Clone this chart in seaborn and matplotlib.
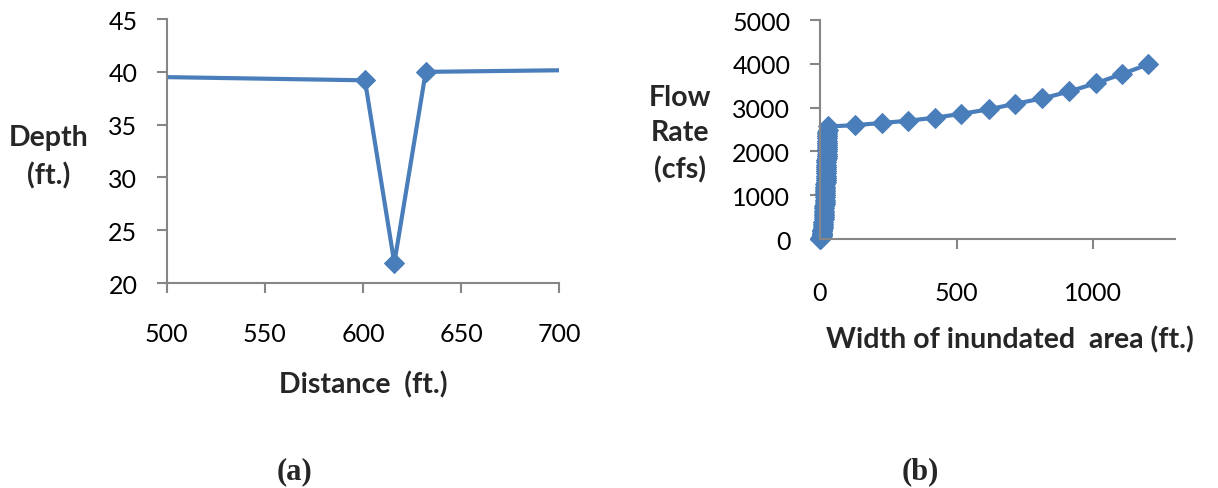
import matplotlib
matplotlib.use("Agg")
import matplotlib.pyplot as plt
import seaborn as sns
import pandas as pd

# (a) cross-section depth vs distance
distance = [400, 601, 616, 632, 800]
depth = [39.8, 39.2, 21.9, 40.0, 40.37]

# (b) rating: flow rate vs width of inundated area
width = [0, 2, 4, 5, 6, 7, 7.5, 8, 8.5, 9, 10, 11, 11.5, 12, 13, 14, 14.5, 15,
         15.5, 16, 16.5, 17, 17.5, 18, 18.5, 19, 19.2, 19.5, 19.8, 20, 20.5,
         21, 21.2, 21.5, 21.8, 22, 22.5, 23, 23.2, 23.5, 23.8, 24, 24.5, 25,
         25.2, 25.5, 25.8, 26, 26.2, 26.5, 26.8, 27, 27.2, 27.5, 27.8, 28,
         28.5, 29,
         128, 226, 321, 420, 518, 617, 715, 814, 912, 1011, 1106, 1201]
flow = [0, 12, 25, 38, 50, 75, 100, 125, 150, 175, 200, 250, 300, 350, 400,
        450, 500, 550, 600, 650, 700, 750, 800, 850, 900, 950, 1000, 1050,
        1100, 1150, 1200, 1250, 1300, 1350, 1400, 1450, 1500, 1550, 1600,
        1650, 1700, 1750, 1800, 1850, 1900, 1950, 2000, 2050, 2100, 2150,
        2200, 2250, 2300, 2350, 2400, 2450, 2500, 2570,
        2600, 2650, 2700, 2770, 2860, 2960, 3090, 3210, 3370, 3560, 3770, 3990]

df_a = pd.DataFrame({"distance": distance, "depth": depth})
df_b = pd.DataFrame({"width": width, "flow": flow})

sns.set_theme(style="white")
plt.rcParams["font.family"] = ["Lato", "DejaVu Sans"]

blue = "#4A7EBB"
gray = "#868686"

fig = plt.figure(figsize=(12.18, 4.89), dpi=100)
ax1 = fig.add_axes([0.137, 0.419, 0.322, 0.540])
ax2 = fig.add_axes([0.673, 0.509, 0.292, 0.448])

sns.lineplot(data=df_a, x="distance", y="depth", ax=ax1, sort=False,
             estimator=None, color=blue, linewidth=3, marker="D",
             markersize=10, markeredgecolor=blue)
ax1.set_xlim(500, 700)
ax1.set_ylim(20, 45)
ax1.set_xticks([500, 550, 600, 650, 700])
ax1.set_yticks([20, 25, 30, 35, 40, 45])
ax1.set_xlabel("")
ax1.set_ylabel("")

sns.lineplot(data=df_b, x="width", y="flow", ax=ax2, sort=False,
             estimator=None, color=blue, linewidth=3, marker="D",
             markersize=10, markeredgecolor=blue, clip_on=False)
ax2.set_xlim(0, 1300)
ax2.set_ylim(0, 5000)
ax2.set_xticks([0, 500, 1000])
ax2.set_yticks([0, 1000, 2000, 3000, 4000, 5000])
ax2.set_xlabel("")
ax2.set_ylabel("")

for ax in (ax1, ax2):
    for s in ("top", "right"):
        ax.spines[s].set_visible(False)
    for s in ("left", "bottom"):
        ax.spines[s].set_color(gray)
        ax.spines[s].set_linewidth(1.5)
    ax.tick_params(axis="both", which="major", direction="out", length=7.2,
                   width=1.5, color=gray, labelsize=18, labelcolor="black",
                   left=True, bottom=True)
    ax.tick_params(axis="y", pad=14)

ax1.tick_params(axis="x", pad=21)
ax2.tick_params(axis="x", pad=23)

lab = dict(fontsize=20.5, fontweight="bold", ha="center", va="center")
fig.text(49 / 1218, 1 - 157 / 489, "Depth\n(ft.)", linespacing=1.5, **lab)
fig.text(363 / 1218, 1 - 385 / 489, "Distance  (ft.)", **lab)
fig.text(680 / 1218, 1 - 134 / 489, "Flow\nRate\n(cfs)", linespacing=1.45, **lab)
fig.text(1010 / 1218, 1 - 340 / 489, "Width of inundated  area (ft.)", **lab)

sub = dict(fontsize=22, fontweight="bold", ha="center", va="center",
           family="Liberation Serif")
fig.text(295 / 1218, 1 - 472 / 489, "(a)", **sub)
fig.text(920 / 1218, 1 - 472 / 489, "(b)", **sub)

fig.savefig("out.png", dpi=100)
